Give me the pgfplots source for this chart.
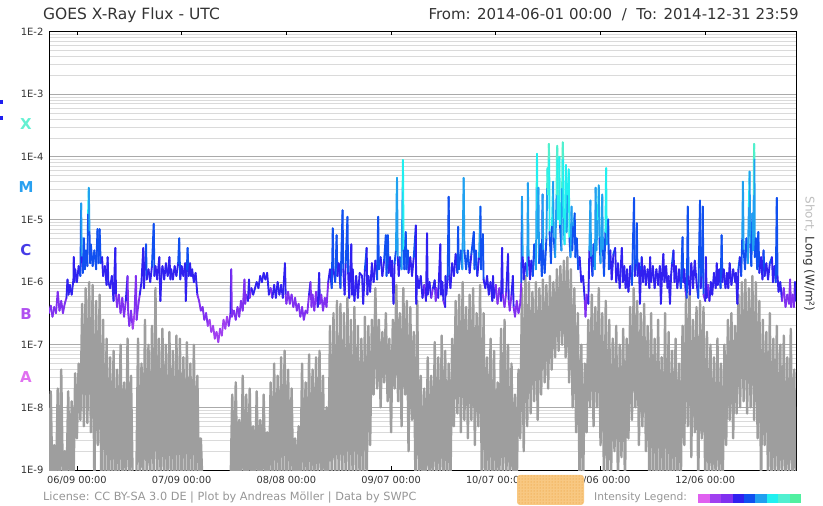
\documentclass[border=0pt]{standalone}
\usepackage{fontspec}
\setmainfont{DejaVu Sans}
\usepackage{pgfplots}
\pgfplotsset{compat=1.18}
\usetikzlibrary{patterns}

\definecolor{txt}{RGB}{51,51,51}
\definecolor{lic}{RGB}{150,150,150}
\definecolor{shortc}{RGB}{158,158,158}
\definecolor{shortlbl}{RGB}{190,190,190}
\definecolor{gridmaj}{RGB}{170,170,170}
\definecolor{gridmin}{RGB}{218,218,218}
\definecolor{orangebox}{RGB}{248,200,130}
\definecolor{orangedot}{RGB}{235,150,40}
\definecolor{lvA}{RGB}{224,96,240}
\definecolor{lvB1}{RGB}{160,64,240}
\definecolor{lvB2}{RGB}{128,48,240}
\definecolor{lvC1}{RGB}{48,32,240}
\definecolor{lvC2}{RGB}{16,80,240}
\definecolor{lvM1}{RGB}{32,160,240}
\definecolor{lvM2}{RGB}{32,240,240}
\definecolor{lvX1}{RGB}{80,240,208}
\definecolor{lvX2}{RGB}{80,240,160}

% one colour per half decade, A .. X
\pgfplotsset{colormap={goes}{rgb255=(224,96,240) rgb255=(160,64,240) rgb255=(128,48,240)
  rgb255=(48,32,240) rgb255=(16,80,240) rgb255=(32,160,240) rgb255=(32,240,240)
  rgb255=(80,240,208) rgb255=(80,240,160) rgb255=(80,240,160)}}

\begin{document}
\begin{tikzpicture}
\useasboundingbox (0,0) rectangle (823pt,506pt);

\begin{axis}[
    at={(49pt,36pt)}, anchor=south west,
    scale only axis,
    width=747pt, height=438.5pt,
    xmin=0, xmax=214,
    ymode=log, log basis y=10,
    ymin=1e-9, ymax=1e-2,
    xtick={8,38,68,98,128,158,188},
    xticklabels={06/09 00:00,07/09 00:00,08/08 00:00,09/07 00:00,10/07 00:00,11/06 00:00,12/06 00:00},
    ytick={1e-9,1e-8,1e-7,1e-6,1e-5,1e-4,1e-3,1e-2},
    yticklabels={1E-9,1E-8,1E-7,1E-6,1E-5,1E-4,1E-3,1E-2},
    minor ytick={2e-9,3e-9,4e-9,5e-9,6e-9,7e-9,8e-9,9e-9,
                 2e-8,3e-8,4e-8,5e-8,6e-8,7e-8,8e-8,9e-8,
                 2e-7,3e-7,4e-7,5e-7,6e-7,7e-7,8e-7,9e-7,
                 2e-6,3e-6,4e-6,5e-6,6e-6,7e-6,8e-6,9e-6,
                 2e-5,3e-5,4e-5,5e-5,6e-5,7e-5,8e-5,9e-5,
                 2e-4,3e-4,4e-4,5e-4,6e-4,7e-4,8e-4,9e-4,
                 2e-3,3e-3,4e-3,5e-3,6e-3,7e-3,8e-3,9e-3},
    ymajorgrids, yminorgrids,
    major grid style={draw=gridmaj, line width=0.9pt},
    minor grid style={draw=gridmin, line width=0.8pt},
    tick align=inside,
    major tick length=4pt,
    minor tick length=0pt,
    ytick style={draw=none},
    xtick style={black, line width=0.8pt},
    axis line style={black, line width=1pt},
    ticklabel style={text=txt},
    xticklabel style={font=\fontsize{9.8}{10}\selectfont},
    yticklabel style={font=\fontsize{10}{10}\selectfont},
    xticklabel shift=3pt,
    yticklabel shift=2pt,
    colormap name=goes,
    colormap access=piecewise constant,
    point meta min=-7.5, point meta max=-3,
]

% short channel (0.05-0.4 nm), grey
\addplot[draw=shortc, line width=2.4pt, line join=round] coordinates {
(0,5e-10)(0.5,1.8e-8)(1,5e-10)(1.5,2.5e-9)(2,5e-10)(2.5,2e-8)(3,5e-10)(3.5,4e-8)
(4,5e-10)(4.5,2e-9)(5,5e-10)(5.5,1.8e-8)(6,5e-10)(6.5,1.25e-8)(7,5e-10)(7.5,3.5e-8)
(8,3.2e-9)(8.5,5e-8)(9,6.3e-9)(9.5,4.5e-7)(10,5e-9)(10.5,8e-7)(11,5.6e-9)(11.5,1e-6)
(12,4e-9)(12.5,9e-7)(13,5e-10)(13.5,5e-7)(14,2.5e-9)(14.5,6.3e-7)(15,5e-10)(15.5,2.5e-7)
(16,5e-10)(16.5,1.25e-7)(17,5e-10)(17.5,6.3e-8)(18,5e-10)(18.5,8e-8)(19,5e-10)(19.5,4e-8)
(20,5e-10)(20.5,1e-7)(21,5e-10)(21.5,2.5e-8)(22,5e-10)(22.5,1.25e-7)(23,5e-10)(23.5,3.2e-8)
(24,5e-10)(24.5,5e-10)(25,5e-10)(25.5,1.25e-7)(26,5e-10)(26.5,5e-8)(27,5e-10)(27.5,2.5e-7)
(28,5e-10)(28.5,1e-7)(29,5e-10)(29.5,2e-7)(30,5e-10)(30.5,8e-7)(31,5e-10)(31.5,1.25e-7)
(32,5e-10)(32.5,1.8e-7)(33,5e-10)(33.5,1e-7)(34,5e-10)(34.5,1.6e-7)(35,5e-10)(35.5,8e-8)
(36,5e-10)(36.5,1.4e-7)(37,5e-10)(37.5,1.25e-7)(38,5e-10)(38.5,6.3e-8)(39,5e-10)(39.5,1.1e-7)
(40,5e-10)(40.5,5e-8)(41,5e-10)(41.5,1e-7)(42,5e-10)(42.5,3.2e-8)(43,5e-10)(43.5,3.2e-9)
(44,5e-10)(51.5,5e-10)
(52,5e-10)(52.5,1.6e-8)(53,5e-10)(53.5,2.5e-8)(54,5e-10)(54.5,6.3e-9)(55,5e-10)(55.5,3.2e-8)
(56,5e-10)(56.5,1.6e-8)(57,5e-10)(57.5,2e-8)(58,5e-10)(58.5,5e-9)(59,5e-10)(59.5,1.8e-8)
(60,5e-10)(60.5,6.3e-9)(61,5e-10)(61.5,1.6e-8)(62,5e-10)(62.5,4e-9)(63,5e-10)(63.5,2.5e-8)
(64,5e-10)(64.5,5e-8)(65,5e-10)(65.5,3.2e-8)(66,5e-10)(66.5,6.3e-8)(67,5e-10)(67.5,8e-8)
(68,5e-10)(68.5,4e-8)(69,5e-10)(69.5,2e-8)(70,5e-10)(70.5,3.2e-9)(71,5e-10)(71.5,5e-9)
(72,5e-10)(72.5,5e-8)(73,5e-10)(73.5,2.5e-8)(74,5e-10)(74.5,7e-8)(75,5e-10)(75.5,4e-8)
(76,5e-10)(76.5,6.3e-8)(77,5e-10)(77.5,8e-8)(78,5e-10)(78.5,3.2e-8)(79,5e-10)(79.5,1e-8)
(80,5e-10)(80.5,2e-7)(81,5e-10)(81.5,3.2e-7)(82,5e-10)(82.5,5e-7)(83,5e-10)(83.5,4.5e-7)
(84,5e-10)(84.5,3.2e-7)(85,5e-10)(85.5,5.6e-7)(86,5e-10)(86.5,2.5e-7)(87,5e-10)(87.5,4e-7)
(88,5e-10)(88.5,2e-7)(89,5e-10)(89.5,1.25e-7)(90,5e-10)(90.5,2.8e-7)(91,5e-10)(91.5,2e-7)
(92,2.5e-9)(92.5,2.5e-7)(93,1.6e-8)(93.5,8e-7)(94,2e-8)(94.5,2.5e-7)(95,1e-8)(95.5,1.6e-7)
(96,2.5e-8)(96.5,3.2e-7)(97,1.25e-8)(97.5,1.25e-7)(98,4e-9)(98.5,2.5e-7)(99,2e-8)(99.5,9e-7)
(100,1.25e-8)(100.5,3.2e-7)(101,5e-9)(101.5,8e-7)(102,1.6e-8)(102.5,5e-7)(103,2e-9)(103.5,4e-7)
(104,6.3e-9)(104.5,1.6e-7)(105,5e-10)(105.5,5e-7)(106,5e-10)(106.5,3.2e-8)(107,5e-10)(107.5,2e-8)
(108,5e-10)(108.5,6.3e-8)(109,5e-10)(109.5,3.2e-8)(110,5e-10)(110.5,1.1e-7)(111,5e-10)(111.5,6.3e-8)
(112,5e-10)(112.5,1.4e-7)(113,5e-10)(113.5,8e-8)(114,5e-10)(114.5,5e-8)(115,5e-10)(115.5,1.25e-7)
(116,5e-9)(116.5,5e-7)(117,8e-9)(117.5,6.3e-7)(118,4e-9)(118.5,1e-6)(119,6.3e-9)(119.5,4e-7)
(120,3.2e-9)(120.5,6.3e-7)(121,6.3e-9)(121.5,8e-7)(122,2.5e-9)(122.5,3.2e-7)(123,5e-9)(123.5,9e-7)
(124,5e-10)(124.5,3.2e-7)(125,5e-10)(125.5,6.3e-8)(126,5e-10)(126.5,1.25e-7)(127,5e-10)(127.5,8e-8)
(128,5e-10)(128.5,2.5e-8)(129,5e-10)(129.5,1.8e-7)(130,5e-10)(130.5,2.5e-7)(131,5e-10)(131.5,1e-7)
(132,5e-10)(132.5,5e-8)(133,5e-10)(133.5,1.6e-8)(134,5e-10)(134.5,4e-8)(135,3.2e-9)(135.5,8e-7)
(136,2e-9)(136.5,1.25e-6)(137,5e-9)(137.5,1e-6)(138,8e-9)(138.5,7e-7)(139,1.25e-8)(139.5,1e-6)
(140,6.3e-9)(140.5,8e-7)(141,1.6e-8)(141.5,1.1e-6)(142,2.5e-8)(142.5,9e-7)(143,2e-8)(143.5,1.25e-6)
(144,4e-8)(144.5,1e-6)(145,6.3e-8)(145.5,1.6e-6)(146,8e-8)(146.5,1.8e-6)(147,1e-7)(147.5,2.2e-6)
(148,6.3e-8)(148.5,2.5e-6)(149,2.5e-8)(149.5,1.6e-6)(150,1e-8)(150.5,8e-7)(151,4e-9)(151.5,3.2e-7)
(152,5e-10)(152.5,1e-7)(153,5e-10)(153.5,5e-8)(154,4e-9)(154.5,2.5e-7)(155,1e-8)(155.5,6.3e-7)
(156,5e-9)(156.5,4e-7)(157,1e-8)(157.5,8e-7)(158,2.5e-9)(158.5,3.2e-7)(159,5e-10)(159.5,5e-7)
(160,5e-10)(160.5,2.5e-7)(161,5e-10)(161.5,1.25e-7)(162,2e-9)(162.5,2e-7)(163,5e-10)(163.5,1e-7)
(164,1.6e-9)(164.5,1.8e-7)(165,5e-10)(165.5,1.25e-7)(166,3.2e-9)(166.5,4e-7)(167,6.3e-9)(167.5,8e-7)
(168,1e-8)(168.5,5e-7)(169,2.5e-9)(169.5,3.2e-7)(170,5e-9)(170.5,4.5e-7)(171,2e-9)(171.5,2e-7)
(172,5e-10)(172.5,3.2e-7)(173,5e-10)(173.5,1.25e-7)(174,5e-10)(174.5,2.5e-7)(175,5e-10)(175.5,6.3e-8)
(176,5e-10)(176.5,3.2e-7)(177,5e-10)(177.5,1.6e-7)(178,5e-10)(178.5,8e-8)(179,5e-10)(179.5,1.25e-7)
(180,5e-10)(180.5,5e-8)(181,5e-10)(181.5,2e-7)(182,2.5e-9)(182.5,6.3e-7)(183,5e-9)(183.5,7e-7)
(184,1.6e-9)(184.5,2.5e-7)(185,4e-9)(185.5,4e-7)(186,5e-10)(186.5,5e-7)(187,3.2e-9)(187.5,4e-7)
(188,5e-10)(188.5,1.6e-7)(189,5e-10)(189.5,1e-7)(190,5e-10)(190.5,6.3e-8)(191,5e-10)(191.5,1.25e-7)
(192,5e-10)(192.5,5e-8)(193,5e-10)(193.5,1e-7)(194,2.5e-9)(194.5,2.5e-7)(195,6.3e-9)(195.5,3.2e-7)
(196,3.2e-9)(196.5,2e-7)(197,8e-9)(197.5,6.3e-7)(198,1e-8)(198.5,1e-6)(199,1.25e-8)(199.5,1.1e-6)
(200,8e-9)(200.5,8e-7)(201,1e-8)(201.5,1.25e-6)(202,6.3e-9)(202.5,1e-6)(203,3.2e-9)(203.5,5e-7)
(204,5e-10)(204.5,2.5e-7)(205,2.5e-9)(205.5,1.6e-7)(206,5e-10)(206.5,3.2e-7)(207,5e-10)(207.5,1.25e-7)
(208,5e-10)(208.5,2e-7)(209,5e-10)(209.5,1e-7)(210,5e-10)(210.5,1.4e-7)(211,5e-10)(211.5,6.3e-8)
(212,5e-10)(212.5,1.8e-7)(213,5e-10)(213.5,4e-8)(214,5e-10)
};

% long channel (0.1-0.8 nm), coloured by flare class
\addplot[mesh, shader=flat, point meta=y, line width=1.9pt, line cap=round] coordinates {
(0,3.2e-7)(0.5,4.2e-7)(1,2.8e-7)(1.5,4e-7)(2,3.2e-7)(2.5,7e-7)(3,3.5e-7)(3.5,5e-7)(4,3.2e-7)(4.5,4.5e-7)
(5,5.6e-7)(5.3,1.1e-6)(5.6,6.3e-7)(6,9e-7)(6.5,6.3e-7)(7,1.1e-6)(7.1,2.5e-6)(7.3,1e-6)(7.5,1.6e-6)(8,1e-6)
(8.5,1.8e-6)(9,1.25e-6)(9.2,1.8e-5)(9.4,2.5e-6)(9.7,1.4e-6)(10,5e-6)(10.3,1.6e-6)(10.6,3.2e-6)(11,1.8e-6)
(11.2,1.25e-5)(11.4,3.2e-5)(11.6,6.3e-6)(11.8,2e-6)(12,4e-6)(12.5,1.8e-6)(13,3.2e-6)(13.5,1.6e-6)(13.9,7e-6)
(14.2,2e-6)(14.5,7e-6)(14.8,2e-6)(15.2,2.5e-6)(15.5,1.25e-6)(16,1.8e-6)(16.5,9e-7)(16.8,2.5e-6)(17,1e-6)
(17.5,8e-7)(18,1.25e-6)(18.5,5e-7)(19,3.5e-6)(19.2,6.3e-7)(19.5,4e-7)(20,6.3e-7)(20.5,3.2e-7)(21,5.6e-7)
(21.5,2.8e-7)(22,5e-7)(22.5,1.25e-6)(22.7,3.2e-7)(23,2e-7)(23.5,3.5e-7)(24,1.8e-7)(24.5,3.2e-7)(24.9,1.25e-6)
(25.1,2.5e-7)(25.5,4e-7)(26,6.3e-7)(26.5,1e-6)(27,3.5e-6)(27.2,8e-7)(27.8,4e-6)(28,1.1e-6)(28.5,1.6e-6)
(29,1e-6)(29.5,1.8e-6)(30,8.5e-6)(30.2,1.25e-6)(30.5,1.8e-6)(31,1.1e-6)(31.6,2.5e-6)(31.9,5e-7)(32.2,1.25e-6)
(32.5,1.8e-6)(33,1.1e-6)(33.5,2e-6)(34,1.25e-6)(34.5,2.5e-6)(34.8,1.1e-6)(35,1.6e-6)(35.5,1.1e-6)(36,1.8e-6)
(36.5,1.25e-6)(37,2e-6)(37.3,5e-6)(37.6,1.1e-6)(38,1.8e-6)(38.5,1.25e-6)(39,2e-6)(39.2,5e-7)(39.5,1.6e-6)
(39.7,3.5e-6)(40,1.25e-6)(40.4,2e-6)(40.7,1.25e-6)(41,1.6e-6)(41.5,1e-6)(42,1.4e-6)(42.5,6.3e-7)(43,5e-7)
(43.5,3.5e-7)(44,4e-7)(44.5,2.5e-7)(45,3.2e-7)(45.5,2e-7)(46,2.5e-7)(46.5,1.6e-7)(47,2e-7)(47.5,1.25e-7)
(48,1.6e-7)(48.5,1.1e-7)(49,1.8e-7)(49.5,1.4e-7)(50,2.5e-7)(50.5,1.8e-7)(51,2.8e-7)(51.5,2e-7)(52,3.2e-7)
(52.2,1.6e-6)(52.4,2.8e-7)(53,3.5e-7)(53.5,2.5e-7)(54,4e-7)(54.5,2.8e-7)(55,5e-7)(55.5,3.5e-7)(56,1.1e-6)
(56.2,4.5e-7)(56.5,6.3e-7)(57,5e-7)(57.3,1.1e-6)(57.5,5.6e-7)(58,8e-7)(58.5,6.3e-7)(59.5,1e-6)(60,8e-7)
(60.5,1.25e-6)(61,1e-6)(61.5,1.4e-6)(62,1.1e-6)(62.5,1.4e-6)(63,6.3e-7)(63.5,8e-7)(64,5.6e-7)(64.5,9e-7)
(65,5.6e-7)(65.5,1e-6)(66,6.3e-7)(66.5,9e-7)(67,5.6e-7)(67.6,2e-6)(67.8,6.3e-7)(68,4.5e-7)(68.5,7e-7)
(69,4.5e-7)(69.5,6.3e-7)(70,4e-7)(70.5,5.6e-7)(71,3.5e-7)(71.5,4.5e-7)(72,2.8e-7)(72.5,4e-7)(73,2.5e-7)
(73.5,3.5e-7)(74,3.2e-7)(74.5,6.3e-7)(74.9,1e-6)(75.2,4e-7)(75.5,6.3e-7)(76,3.5e-7)(76.5,7e-7)(77,4e-7)
(77.4,1.4e-6)(77.6,4.5e-7)(78,6.3e-7)(78.5,3.5e-7)(79,5.6e-7)(79.5,4e-7)(80,1e-6)(80.5,1.6e-6)(81,8e-7)
(81.3,7.2e-6)(81.5,1.6e-6)(82,1e-6)(82.4,5.6e-6)(82.6,1.25e-6)(83,2e-6)(83.5,8e-7)(84.1,1.4e-5)(84.3,1.6e-6)
(84.7,6.3e-7)(85,2e-6)(85.5,1.1e-5)(85.7,1.4e-6)(86,5.6e-7)(86.6,4e-6)(86.8,6.3e-7)(87,1.6e-6)(87.5,5e-7)
(88,1.25e-6)(88.5,5.6e-7)(89,1.4e-6)(89.7,1.25e-6)(90,4.5e-7)(90.5,1.6e-6)(91,3.5e-6)(91.2,6.3e-7)
(91.5,1.25e-6)(92,7e-7)(92.5,2e-6)(93,1e-6)(93.5,2.2e-6)(94,1.1e-6)(94.3,1.1e-5)(94.5,1.6e-6)(95,2.5e-6)
(95.5,1.25e-6)(96,2.2e-6)(96.5,5.6e-6)(96.7,1.25e-6)(97.1,5.6e-6)(97.3,1.4e-6)(97.7,2.5e-6)(98,1.25e-6)
(98.3,2.2e-6)(98.7,4.5e-7)(99,2e-6)(99.4,3.2e-6)(99.6,2.5e-5)(99.7,4.6e-5)(99.9,2.5e-6)(100.2,1.25e-6)
(100.5,2.5e-6)(101,1.6e-6)(101.3,3.2e-5)(101.4,8.9e-5)(101.6,3.2e-6)(101.8,1.6e-6)(102.2,6.3e-6)(102.4,1.6e-6)
(102.8,3.2e-6)(103,1.4e-6)(103.5,2.5e-6)(104,1.25e-6)(104.5,2.5e-6)(105.1,8e-6)(105.2,4.5e-7)(105.5,1.25e-6)
(106,8e-7)(106.5,1.25e-6)(107,5.6e-7)(107.5,9e-7)(108,5e-7)(108.3,6e-6)(108.5,6.3e-7)(109,1e-6)(109.5,5.6e-7)
(110,8e-7)(110.5,1.07e-6)(110.8,5e-7)(111,8e-7)(111.5,5.6e-7)(112.1,4e-6)(112.3,6.3e-7)(112.7,1e-6)(113,5e-7)
(113.5,4e-7)(113.6,1.25e-6)(113.8,6.3e-7)(114.2,1.1e-6)(114.5,2.3e-5)(114.7,1.25e-6)(115,8e-7)(115.5,2e-6)
(116,1.25e-6)(116.5,2.8e-6)(117,1.4e-6)(117.2,7.6e-6)(117.4,1.6e-6)(118,3.2e-6)(118.4,1.6e-6)(118.8,4.6e-5)
(119,3.2e-6)(119.5,1.6e-6)(120,3.2e-6)(120.5,1.4e-6)(121,2.8e-6)(121.7,6.3e-6)(121.9,1.6e-6)(122.3,3.2e-6)
(122.7,1.25e-6)(123.2,2.5e-6)(123.6,1.6e-5)(123.8,1.6e-6)(124.3,5.8e-6)(124.5,1.1e-6)(125,8e-7)(125.5,1.25e-6)
(126,6.3e-7)(126.5,1e-6)(127,5e-7)(127.2,1.25e-6)(127.5,5.6e-7)(128,9e-7)(128.5,4.5e-7)(129,8e-7)(129.5,5e-7)
(129.8,3.5e-6)(130,6.3e-7)(130.5,4e-7)(131,7e-7)(131.5,2.8e-6)(131.7,5e-7)(132,3.5e-7)(132.5,6.3e-7)
(132.9,1.25e-6)(133.1,4e-7)(133.5,2.8e-7)(134,5e-7)(134.5,3.2e-7)(135,4.5e-7)(135.3,1e-6)(135.5,2.3e-5)
(135.7,2.5e-6)(136,1.1e-6)(136.5,2e-6)(137,1.25e-6)(137.2,3.8e-5)(137.4,2.5e-6)(137.8,1.1e-6)(138.2,2.2e-6)
(138.6,1.25e-6)(139,4e-6)(139.5,1.6e-6)(139.7,3.2e-5)(139.8,1.12e-4)(140,5e-6)(140.2,3.2e-5)(140.4,2e-6)
(140.8,4e-6)(141.2,1.25e-6)(141.4,2.5e-5)(141.6,3.2e-6)(142,1.4e-6)(142.5,5e-6)(142.7,3.2e-5)(142.8,6.6e-5)
(143,2.5e-5)(143.15,1e-4)(143.2,1.6e-4)(143.3,9e-5)(143.4,6.3e-6)(143.8,2e-6)(144.1,8e-6)(144.4,4e-5)
(144.6,5e-6)(145,2.5e-6)(145.4,2.5e-5)(145.5,1e-4)(145.6,1.5e-4)(145.7,9e-5)(145.8,1e-5)(146,2.5e-5)
(146.2,1e-4)(146.4,8e-6)(146.8,3.2e-6)(147,3.2e-5)(147.1,1e-4)(147.2,1.7e-4)(147.3,9e-5)(147.4,1e-5)
(147.7,4e-6)(148.1,7.4e-5)(148.3,6.3e-6)(148.6,2.5e-5)(148.9,6.3e-5)(149.1,5e-6)(149.4,2.5e-6)(149.7,1.6e-5)
(149.9,3.2e-6)(150.2,8e-6)(150.6,1.25e-5)(150.8,2.5e-6)(151.2,5e-6)(151.6,1.6e-6)(152,2.5e-6)(152.5,1e-6)
(153,1.25e-6)(153.5,5e-7)(153.7,2.8e-7)(154,6.3e-7)(154.5,4.5e-7)(154.8,3.2e-6)(155.1,2e-5)(155.3,2.5e-6)
(155.7,1.25e-6)(156,4e-6)(156.4,1.6e-6)(156.6,3.2e-5)(156.8,3.2e-6)(157.2,1e-5)(157.5,3.5e-5)(157.7,5e-6)
(158,2e-6)(158.5,2.5e-5)(158.7,3.2e-6)(159,1.25e-6)(159.4,6.3e-6)(159.6,6.6e-5)(159.8,4e-6)(160.2,1e-5)
(160.4,1.6e-6)(160.8,3.2e-6)(161.2,1.1e-6)(161.7,2.8e-6)(162.2,3.5e-6)(162.5,1e-6)(163,2e-6)(163.5,8e-7)
(164.1,3.5e-6)(164.4,1e-6)(164.8,1.8e-6)(165.2,8e-7)(165.6,1.6e-6)(166,7e-7)(166.5,1.8e-6)(167,9e-7)
(167.6,2.2e-5)(167.8,1.25e-6)(168.2,2e-6)(168.4,8.7e-6)(168.6,1.25e-6)(169,2e-6)(169.3,4.5e-7)(169.6,1.6e-6)
(169.8,2.5e-6)(170.2,1e-6)(170.6,1.8e-6)(171,9e-7)(171.5,1.6e-6)(172,8e-7)(172.2,2.5e-6)(172.5,1e-6)
(173,1.8e-6)(173.5,8e-7)(174,1.6e-6)(174.5,9e-7)(175,1.8e-6)(175.3,4.5e-7)(175.6,1.25e-6)(176,2.8e-6)
(176.3,1e-6)(176.8,1.8e-6)(177.2,8e-7)(177.5,1.25e-6)(177.9,4.5e-7)(178.2,1.25e-6)(178.5,2e-6)(178.9,3.2e-6)
(179.2,1e-6)(179.6,1.8e-6)(180,8e-7)(180.5,1.6e-6)(181,8e-7)(181.5,5.2e-6)(181.7,1e-6)(182,1.6e-6)
(182.4,7e-7)(182.7,5.6e-7)(183,1.6e-5)(183.2,1.25e-6)(183.6,6.3e-7)(184,2e-6)(184.5,8e-7)(185,2.2e-6)
(185.5,1e-6)(186,5.6e-7)(186.5,2e-5)(186.7,8e-7)(187,1.25e-6)(187.3,1.6e-5)(187.5,6.3e-7)(188,5e-7)
(188.2,2.5e-6)(188.4,5.6e-7)(188.8,9e-7)(189.2,5e-7)(189.6,1e-6)(190,6.3e-7)(190.5,1.4e-6)(191,8e-7)
(191.3,2e-6)(191.6,9e-7)(192,1.6e-6)(192.4,8e-7)(192.7,5.6e-6)(192.9,1e-6)(193.3,1.6e-6)(193.8,8e-7)
(194.2,1.4e-6)(194.6,8e-7)(195,2e-6)(195.5,9e-7)(196,1.6e-6)(196.6,1e-6)(196.8,1.4e-6)(197.2,4.5e-7)
(197.5,1.6e-6)(197.9,2.5e-6)(198.3,1.25e-6)(198.6,5e-6)(198.8,4e-5)(199,3.2e-6)(199.4,1.6e-6)(199.8,5e-6)
(200.2,2e-6)(200.5,1.6e-5)(200.7,5.8e-5)(200.9,4e-6)(201.2,1.8e-6)(201.5,1.25e-5)(201.7,3.2e-6)(201.9,2.5e-5)
(201.95,1e-4)(202,1.6e-4)(202.1,9e-5)(202.2,2.5e-6)(202.5,5e-6)(202.9,1.6e-6)(203.2,6.3e-6)(203.5,1.4e-6)
(204,2.5e-6)(204.4,1.1e-6)(204.7,3.2e-6)(205,1.25e-6)(205.5,2e-6)(206,1.1e-6)(206.5,2e-6)(207.1,2.5e-6)
(207.4,1e-6)(207.8,1.8e-6)(208.2,1e-6)(208.5,2.2e-5)(208.7,1.25e-6)(209,7e-7)(209.5,1e-6)(210,5e-7)
(210.5,8e-7)(211,4e-7)(211.5,6.3e-7)(212,4.5e-7)(212.3,1.1e-6)(212.6,4e-7)(213,6.3e-7)(213.4,4e-7)
(213.7,1e-6)(214,5e-7)
};
\end{axis}

% header
\node[anchor=base west, text=txt, font=\fontsize{15.5}{16}\selectfont, inner sep=0pt] at (43pt,486pt) {GOES X-Ray Flux - UTC};
\node[anchor=base east, text=txt, font=\fontsize{15}{16}\selectfont, inner sep=0pt] at (799pt,486pt) {From: 2014-06-01 00:00 \ / \ To: 2014-12-31 23:59};

% flare classes
\begin{scope}[font=\bfseries\fontsize{15}{15}\selectfont]
\node[text={rgb,255:red,100;green,240;blue,210}] at (26pt,382pt) {X};
\node[text={rgb,255:red,40;green,160;blue,240}] at (26pt,319pt) {M};
\node[text={rgb,255:red,70;green,60;blue,230}] at (26pt,256pt) {C};
\node[text={rgb,255:red,176;green,80;blue,240}] at (26pt,192pt) {B};
\node[text={rgb,255:red,224;green,112;blue,240}] at (26pt,129pt) {A};
\end{scope}
\draw[color={rgb,255:red,30;green,30;blue,240}, line width=2.5pt, dash pattern=on 4pt off 12pt] (1.5pt,406pt) -- (1.5pt,383pt);

% right label
\node[rotate=-90, font=\fontsize{12}{12}\selectfont, inner sep=0pt] at (809pt,252pt)
  {\textcolor{shortlbl}{Short,} \textcolor{txt}{Long (W/m²)}};

% footer
\node[anchor=base west, text=lic, font=\fontsize{11.3}{12}\selectfont, inner sep=0pt] at (43pt,5.3pt)
  {License: CC BY-SA 3.0 DE | Plot by Andreas Möller | Data by SWPC};
\fill[orangebox, rounded corners=3pt] (517pt,1pt) rectangle (584pt,31pt);
\fill[pattern=dots, pattern color=orangedot, rounded corners=3pt] (517pt,1pt) rectangle (584pt,31pt);
\node[anchor=base west, text=lic, font=\fontsize{10.7}{11}\selectfont, inner sep=0pt] at (594pt,5.3pt) {Intensity Legend:};
\foreach \c [count=\i from 0] in {lvA,lvB1,lvB2,lvC1,lvC2,lvM1,lvM2,lvX1,lvX2}
  \fill[\c] (698.3pt+\i*11.4pt,2.7pt) rectangle ++(11.4pt,9pt);
\end{tikzpicture}
\end{document}
